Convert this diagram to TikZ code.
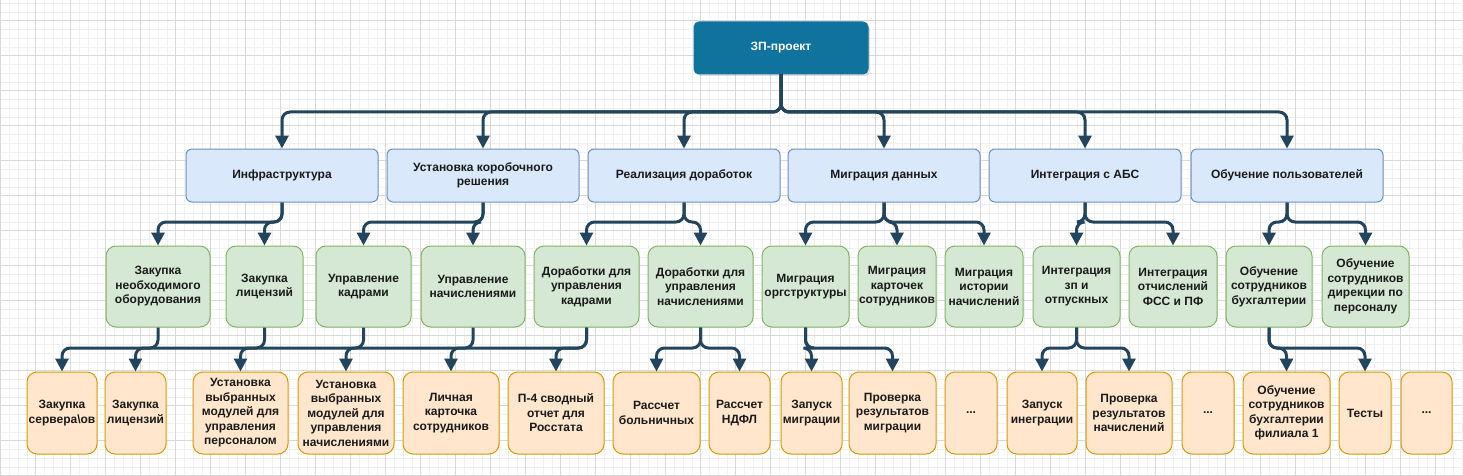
\documentclass[tikz,border=0pt]{standalone}
\usepackage{fontspec}
\setmainfont{Liberation Sans}
\usetikzlibrary{arrows.meta,shadows}
\definecolor{edgec}{HTML}{23445D}
\definecolor{rootc}{HTML}{10739E}
\definecolor{bluef}{HTML}{DAE8FC}
\definecolor{blued}{HTML}{6C8EBF}
\definecolor{greenf}{HTML}{D5E8D4}
\definecolor{greend}{HTML}{82B366}
\definecolor{orangef}{HTML}{FFE6CC}
\definecolor{oranged}{HTML}{D79B00}
\definecolor{txt}{HTML}{1A1A1A}
\definecolor{gridminor}{HTML}{F0F0F0}
\definecolor{gridmajor}{HTML}{D8D8D8}
\newcommand\lnk[3]{\draw[edgeline] (#1.south) -- (#1.south |- 0,#3) -| (#2.north);}
\begin{document}
\begin{tikzpicture}[x=1pt,y=-1pt,
  boxbase/.style={rectangle, inner sep=0pt, align=center, text=txt, line width=1pt,
    font=\fontsize{12}{14.5}\selectfont\bfseries},
  rootbox/.style={boxbase, rounded corners=5pt, fill=rootc, draw=rootc, text=white,
    minimum width=174pt, minimum height=52pt,
    drop shadow={opacity=0.25, shadow xshift=2pt, shadow yshift=-2pt}},
  lone/.style={boxbase, rounded corners=6pt, fill=bluef, draw=blued,
    minimum width=192pt, minimum height=53pt},
  ltwo/.style={boxbase, rounded corners=10pt, fill=greenf, draw=greend,
    minimum height=81pt},
  lthree/.style={boxbase, rounded corners=10pt, fill=orangef, draw=oranged,
    minimum height=82pt},
  edgeline/.style={draw=edgec, line width=3pt, rounded corners=8pt,
    -{Triangle[length=13pt,width=13pt]}},
]
\useasboundingbox (0,0) rectangle (1463,476);
\fill[white] (0,0) rectangle (1463,476);
% grid
\foreach \i in {0,...,167} \draw[gridminor, line width=0.8pt] ({0.7+8.75*\i},0) -- ({0.7+8.75*\i},476);
\foreach \j in {0,...,54} \draw[gridminor, line width=0.8pt] (0,{3.2+8.75*\j}) -- (1463,{3.2+8.75*\j});
\foreach \i in {0,...,41} \draw[gridmajor, line width=0.8pt] ({0.7+35*\i},0) -- ({0.7+35*\i},476);
\foreach \j in {0,...,13} \draw[gridmajor, line width=0.8pt] (0,{20.7+35*\j}) -- (1463,{20.7+35*\j});

% root
\node[rootbox] (root) at (781,48) {ЗП-проект};

% level 1
\node[lone] (a1) at (282,175.5) {Инфраструктура};
\node[lone] (a2) at (483,175.5) {Установка коробочного\\решения};
\node[lone] (a3) at (684,175.5) {Реализация доработок};
\node[lone] (a4) at (884,175.5) {Миграция данных};
\node[lone] (a5) at (1085,175.5) {Интеграция с АБС};
\node[lone] (a6) at (1287,175.5) {Обучение пользователей};

% level 2
\node[ltwo, minimum width=104pt] (g1) at (158,286.5) {Закупка\\необходимого\\оборудования};
\node[ltwo, minimum width=77pt] (g2) at (264.5,286.5) {Закупка\\лицензий};
\node[ltwo, minimum width=95pt] (g3) at (363.5,286.5) {Управление\\кадрами};
\node[ltwo, minimum width=104pt] (g4) at (473,286.5) {Управление\\начислениями};
\node[ltwo, minimum width=105pt] (g5) at (586.5,286.5) {Доработки для\\управления\\кадрами};
\node[ltwo, minimum width=105pt] (g6) at (700.5,286.5) {Доработки для\\управления\\начислениями};
\node[ltwo, minimum width=87pt] (g7) at (805.5,286.5) {Миграция\\оргструктуры};
\node[ltwo, minimum width=78pt] (g8) at (897,286.5) {Миграция\\карточек\\сотрудников};
\node[ltwo, minimum width=78pt] (g9) at (984,286.5) {Миграция\\истории\\начислений};
\node[ltwo, minimum width=87pt] (g10) at (1076.5,286.5) {Интеграция\\зп и\\отпускных};
\node[ltwo, minimum width=88pt] (g11) at (1173,286.5) {Интеграция\\отчислений\\ФСС и ПФ};
\node[ltwo, minimum width=86pt] (g12) at (1269,286.5) {Обучение\\сотрудников\\бухгалтерии};
\node[ltwo, minimum width=87pt] (g13) at (1365.5,286.5) {Обучение\\сотрудников\\дирекции по\\персоналу};

% level 3
\node[lthree, minimum width=70pt] (o1) at (62,413) {Закупка\\сервера\textbackslash ов};
\node[lthree, minimum width=61pt] (o2) at (135.5,413) {Закупка\\лицензий};
\node[lthree, minimum width=95pt] (o3) at (240.5,413) {Установка\\выбранных\\модулей для\\управления\\персоналом};
\node[lthree, minimum width=96pt] (o4) at (346,413) {Установка\\выбранных\\модулей для\\управления\\начислениями};
\node[lthree, minimum width=96pt] (o5) at (451,413) {Личная\\карточка\\сотрудников};
\node[lthree, minimum width=96pt] (o6) at (556,413) {П-4 сводный\\отчет для\\Росстата};
\node[lthree, minimum width=87pt] (o7) at (656.5,413) {Рассчет\\больничных};
\node[lthree, minimum width=61pt] (o8) at (739.5,413) {Рассчет\\НДФЛ};
\node[lthree, minimum width=61pt] (o9) at (811.5,413) {Запуск\\миграции};
\node[lthree, minimum width=87pt] (o10) at (892.5,413) {Проверка\\результатов\\миграции};
\node[lthree, minimum width=52pt] (o11) at (971,413) {...};
\node[lthree, minimum width=70pt] (o12) at (1042,413) {Запуск\\инеграции};
\node[lthree, minimum width=86pt] (o13) at (1129,413) {Проверка\\результатов\\начислений};
\node[lthree, minimum width=52pt] (o14) at (1208,413) {...};
\node[lthree, minimum width=87pt] (o15) at (1286.5,413) {Обучение\\сотрудников\\бухгалтерии\\филиала 1};
\node[lthree, minimum width=52pt] (o16) at (1365,413) {Тесты};
\node[lthree, minimum width=51pt] (o17) at (1426.5,413) {...};

% edges root -> level 1
\foreach \c in {a1,a2,a3,a4,a5,a6} {\lnk{root}{\c}{112}}

% level 1 -> level 2
\lnk{a1}{g1}{222} \lnk{a1}{g2}{222}
\lnk{a2}{g3}{222} \lnk{a2}{g4}{222}
\lnk{a3}{g5}{222} \lnk{a3}{g6}{222}
\lnk{a4}{g7}{222} \lnk{a4}{g8}{222} \lnk{a4}{g9}{222}
\lnk{a5}{g10}{222} \lnk{a5}{g11}{222}
\lnk{a6}{g12}{222} \lnk{a6}{g13}{222}

% level 2 -> level 3
\lnk{g1}{o1}{348}
\lnk{g2}{o2}{348}
\lnk{g3}{o3}{348}
\lnk{g4}{o4}{348}
\lnk{g5}{o5}{348} \lnk{g5}{o6}{348}
\lnk{g6}{o7}{348} \lnk{g6}{o8}{348}
\lnk{g7}{o9}{348} \lnk{g7}{o10}{348}
\lnk{g10}{o12}{348} \lnk{g10}{o13}{348}
\lnk{g12}{o15}{348} \lnk{g12}{o16}{348}
\end{tikzpicture}
\end{document}
